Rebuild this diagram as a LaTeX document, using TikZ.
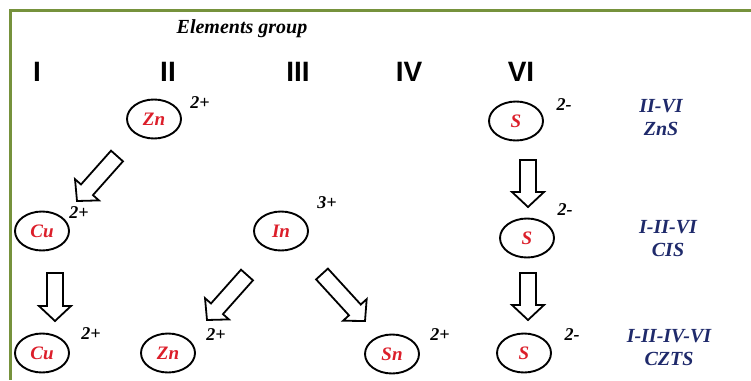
\documentclass[tikz,border=0pt]{standalone}
\usepackage{fontspec}
\setmainfont{Liberation Serif}
\setsansfont{Liberation Sans}
\usetikzlibrary{shapes.geometric,calc}
\definecolor{framegreen}{HTML}{76923C}
\definecolor{elemred}{HTML}{DC1E2A}
\definecolor{navy}{HTML}{1F2A6B}
\tikzset{
  elem/.style={ellipse, draw, line width=1.9pt, minimum width=54pt, minimum height=39pt, inner sep=0pt, text=elemred, font=\fontsize{19}{22}\selectfont\bfseries\itshape},
  charge/.style={inner sep=0pt, font=\fontsize{18}{20}\selectfont\bfseries\itshape},
  grp/.style={inner sep=0pt, font=\fontsize{28}{30}\selectfont\sffamily\bfseries},
  lbl/.style={inner sep=0pt, text=navy, align=center, font=\fontsize{20}{23}\selectfont\bfseries\itshape},
  ttl/.style={inner sep=0pt, font=\fontsize{20}{22}\selectfont\bfseries\itshape},
  blk/.style={draw, line width=1.8pt, fill=white, line join=miter},
  frameline/.style={draw=framegreen, line width=3pt}
}
\newcommand\blockarrow[2]{%
  \coordinate (hb) at ($(#2)!15pt!(#1)$);
  \draw[blk] ($(#1)!8pt!90:(#2)$) -- ($(hb)!8pt!90:(#2)$) -- ($(hb)!16pt!90:(#2)$) -- (#2)
    -- ($(hb)!16pt!-90:(#2)$) -- ($(hb)!8pt!-90:(#2)$) -- ($(#1)!8pt!-90:(#2)$) -- cycle;}
\begin{document}
\begin{tikzpicture}[x=1pt,y=-1pt]
\useasboundingbox (0,0) rectangle (751,380);
\fill[white] (0,0) rectangle (751,380);
\draw[frameline] (751,10) -- (10,10) -- (10,380);

\node[ttl] (title) at (242,29) {Elements group};
\node[grp] (g1) at (37,72) {I};
\node[grp] (g2) at (168,72) {II};
\node[grp] (g3) at (298,72) {III};
\node[grp] (g4) at (409,72) {IV};
\node[grp] (g6) at (521,72) {VI};

% row 1
\node[elem] (zn1) at (154,119) {Zn};
\node[charge] (czn1) at (200,103) {2+};
\node[elem] (s1) at (516,121) {S};
\node[charge] (cs1) at (564,105) {2-};
\node[lbl] (l1) at (661,118) {II-VI\\ZnS};

% row 2
\node[elem] (cu2) at (42,231) {Cu};
\node[charge] (ccu2) at (79,213) {2+};
\node[elem] (in2) at (281,231) {In};
\node[charge] (cin2) at (327,203) {3+};
\node[elem] (s2) at (527,238) {S};
\node[charge] (cs2) at (565,210) {2-};
\node[lbl] (l2) at (668,239) {I-II-VI\\CIS};

% row 3
\node[elem] (cu3) at (42,353) {Cu};
\node[charge] (ccu3) at (91,334) {2+};
\node[elem] (zn3) at (168,353) {Zn};
\node[charge] (czn3) at (216,335) {2+};
\node[elem] (sn3) at (392,354) {Sn};
\node[charge] (csn3) at (440,335) {2+};
\node[elem] (s3) at (524,353) {S};
\node[charge] (cs3) at (572,335) {2-};
\node[lbl] (l3) at (669,348) {I-II-IV-VI\\CZTS};

% arrow end points
\coordinate (a1s) at (117,156); \coordinate (a1e) at (77,201);
\coordinate (a2s) at (55,273);  \coordinate (a2e) at (55,321);
\coordinate (a3s) at (247,275); \coordinate (a3e) at (207,320);
\coordinate (a4s) at (322,274); \coordinate (a4e) at (365,321);
\coordinate (a5s) at (528,160); \coordinate (a5e) at (528,207);
\coordinate (a6s) at (528,273); \coordinate (a6e) at (528,320);
\blockarrow{a1s}{a1e}
\blockarrow{a2s}{a2e}
\blockarrow{a3s}{a3e}
\blockarrow{a4s}{a4e}
\blockarrow{a5s}{a5e}
\blockarrow{a6s}{a6e}
\end{tikzpicture}
\end{document}
